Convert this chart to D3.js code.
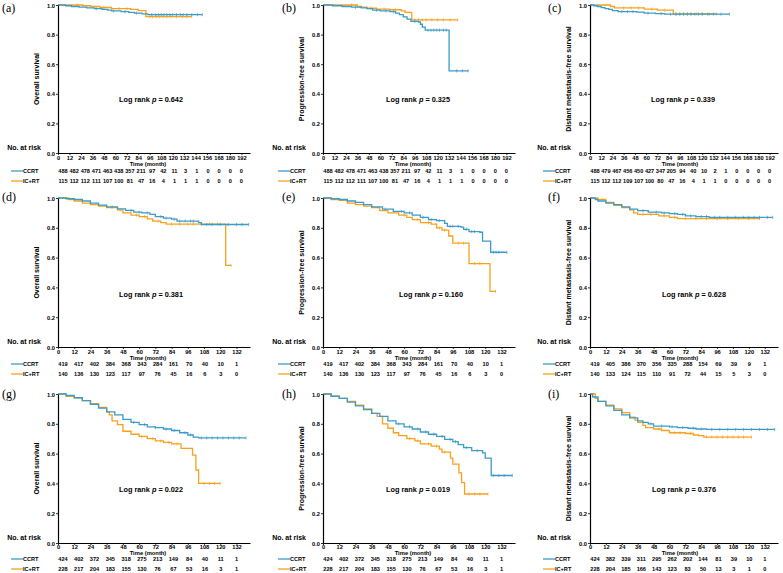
<!DOCTYPE html>
<html>
<head>
<meta charset="utf-8">
<script src="https://cdn.jsdelivr.net/npm/d3@7"></script>
<style>
  body { margin: 0; background: #fff; }
  svg { display: block; font-family: "Liberation Sans", Arial, sans-serif; font-weight: bold; }
</style>
</head>
<body>
<svg id="chart" width="783" height="573"></svg>
<script>
// ---- data ----
var ticksLong = [0, 12, 24, 36, 48, 60, 72, 84, 96, 108, 120, 132, 144, 156, 168, 180, 192];
var ticksShort = [0, 12, 24, 36, 48, 60, 72, 84, 96, 108, 120, 132];
var survTicks = [0, 0.2, 0.4, 0.6, 0.8, 1.0];
var groups = ['CCRT', 'IC+RT'];

// KM steps: [month, survival]; last point = end of follow-up
var a_ccrt = [[0,1],[8,0.995],[14,0.99],[22,0.985],[30,0.98],[38,0.975],[46,0.97],[52,0.965],[56,0.96],[66,0.955],[74,0.95],[80,0.945],[88,0.94],[94,0.935],[151,0.935]];
var a_ic = [[0,1],[26,0.995],[34,0.99],[44,0.983],[56,0.975],[76,0.97],[84,0.962],[92,0.921],[140,0.921]];
var b_ccrt = [[0,1],[10,0.995],[20,0.99],[30,0.985],[40,0.98],[46,0.975],[52,0.965],[60,0.96],[70,0.955],[76,0.945],[80,0.935],[84,0.92],[88,0.905],[92,0.89],[100,0.885],[102,0.87],[104,0.85],[107,0.83],[132,0.555],[152,0.555]];
var b_ic = [[0,1],[36,0.99],[40,0.985],[46,0.978],[56,0.972],[70,0.968],[82,0.96],[86,0.95],[93,0.9],[141,0.9]];
var c_ccrt = [[0,1],[4,0.995],[8,0.99],[12,0.982],[16,0.975],[20,0.97],[24,0.962],[30,0.955],[50,0.952],[58,0.945],[70,0.942],[80,0.938],[149,0.938]];
var c_ic = [[0,1],[22,0.99],[26,0.98],[58,0.972],[72,0.965],[89,0.94],[135,0.94]];
var d_ccrt = [[0,1],[6,0.995],[12,0.99],[18,0.98],[24,0.965],[30,0.952],[36,0.94],[44,0.927],[50,0.917],[56,0.905],[62,0.9],[68,0.89],[72,0.875],[78,0.865],[84,0.858],[88,0.845],[104,0.835],[106,0.822],[141,0.822]];
var d_ic = [[0,1],[8,0.99],[12,0.98],[18,0.965],[24,0.955],[30,0.945],[36,0.935],[44,0.92],[48,0.9],[54,0.885],[60,0.875],[66,0.86],[70,0.845],[76,0.835],[80,0.825],[124,0.548],[128,0.548]];
var e_ccrt = [[0,1],[6,0.995],[12,0.99],[18,0.98],[24,0.97],[30,0.955],[36,0.94],[44,0.925],[52,0.91],[60,0.9],[66,0.885],[72,0.87],[78,0.855],[84,0.848],[90,0.83],[92,0.81],[102,0.805],[104,0.79],[108,0.775],[116,0.77],[118,0.71],[124,0.636],[136,0.636]];
var e_ic = [[0,1],[6,0.99],[12,0.985],[18,0.965],[24,0.955],[30,0.945],[36,0.935],[42,0.915],[48,0.9],[56,0.885],[62,0.87],[66,0.855],[72,0.835],[80,0.825],[84,0.8],[88,0.785],[93,0.745],[96,0.697],[108,0.56],[123.5,0.373],[127.6,0.373]];
var f_ccrt = [[0,1],[4,0.99],[6,0.98],[12,0.965],[18,0.955],[24,0.94],[30,0.925],[36,0.915],[44,0.905],[54,0.9],[60,0.895],[66,0.89],[72,0.88],[80,0.875],[90,0.87],[138,0.87]];
var f_ic = [[0,1],[6,0.99],[12,0.97],[18,0.95],[24,0.935],[30,0.92],[33,0.9],[36,0.89],[52,0.88],[60,0.87],[66,0.862],[128,0.862]];
var g_ccrt = [[0,1],[6,0.99],[12,0.975],[18,0.955],[24,0.93],[30,0.905],[36,0.88],[42,0.86],[48,0.83],[54,0.81],[60,0.795],[66,0.78],[72,0.775],[78,0.765],[84,0.755],[90,0.74],[96,0.725],[100,0.71],[104,0.705],[139,0.705]];
var g_ic = [[0,1],[6,0.985],[12,0.975],[18,0.955],[24,0.935],[30,0.91],[36,0.88],[38,0.86],[40,0.82],[44,0.795],[48,0.75],[54,0.73],[60,0.715],[66,0.7],[72,0.685],[78,0.675],[84,0.665],[91,0.635],[99.5,0.59],[102,0.49],[104,0.4],[120,0.4]];
var h_ccrt = [[0,1],[6,0.985],[12,0.97],[18,0.945],[24,0.92],[30,0.895],[36,0.87],[42,0.85],[48,0.82],[54,0.8],[60,0.78],[66,0.765],[72,0.745],[78,0.73],[84,0.715],[90,0.695],[96,0.68],[100,0.66],[104,0.64],[110,0.62],[118,0.605],[120,0.569],[124.4,0.453],[140,0.453]];
var h_ic = [[0,1],[6,0.985],[12,0.97],[18,0.95],[24,0.925],[30,0.9],[36,0.87],[40,0.85],[44,0.8],[48,0.77],[52,0.74],[56,0.72],[62,0.7],[68,0.685],[72,0.665],[80,0.65],[86,0.63],[88,0.61],[94.3,0.57],[96,0.53],[100.5,0.47],[102.5,0.405],[104.7,0.329],[122,0.329]];
var i_ccrt = [[0,1],[2,0.98],[6,0.95],[12,0.92],[18,0.89],[24,0.86],[30,0.84],[36,0.82],[40,0.81],[44,0.8],[48,0.785],[60,0.78],[66,0.775],[74,0.77],[80,0.765],[88,0.762],[139.5,0.762]];
var i_ic = [[0,1],[4,0.97],[6,0.95],[12,0.925],[18,0.9],[24,0.875],[30,0.845],[34,0.825],[36,0.81],[40,0.79],[42,0.775],[48,0.765],[54,0.755],[60,0.74],[72,0.735],[78,0.725],[82,0.72],[86,0.711],[122,0.711]];

// censoring times (months)
var a_ccrt_cens = [40, 58, 70, 82, 98, 102, 105, 108, 111, 114, 117, 120, 124, 128, 131, 135, 140, 146, 151];
var a_ic_cens = [20, 48, 64, 72, 96, 99, 103, 106, 110, 114, 118, 124, 130, 135, 140];
var b_ccrt_cens = [34, 56, 66, 74, 96, 110, 113, 116, 119, 122, 126, 129, 140, 146, 152];
var b_ic_cens = [30, 50, 64, 76, 96, 100, 104, 108, 114, 120, 126, 133, 141];
var c_ccrt_cens = [34, 40, 46, 62, 76, 86, 92, 96, 100, 104, 108, 112, 116, 120, 126, 132, 140, 149];
var c_ic_cens = [36, 44, 52, 66, 80, 92, 96, 100, 104, 108, 114, 120, 128, 135];
var d_ccrt_cens = [40, 54, 60, 66, 76, 80, 86, 90, 94, 98, 100, 110, 114, 120, 126, 132, 136, 141];
var d_ic_cens = [46, 58, 64, 74, 84, 90, 96, 100, 106, 112, 118, 128];
var e_ccrt_cens = [46, 58, 64, 74, 80, 86, 94, 96, 100, 106, 110, 112, 126, 128, 130, 136];
var e_ic_cens = [60, 70, 78, 86, 90, 100, 104, 112, 116, 127.6];
var f_ccrt_cens = [40, 50, 56, 64, 70, 76, 84, 88, 94, 98, 104, 110, 116, 120, 124, 128, 134, 138];
var f_ic_cens = [40, 46, 56, 64, 72, 80, 88, 96, 104, 112, 120, 128];
var g_ccrt_cens = [56, 64, 72, 80, 86, 94, 98, 106, 110, 114, 118, 122, 126, 130, 134, 139];
var g_ic_cens = [62, 70, 76, 82, 88, 108, 112, 116, 120];
var h_ccrt_cens = [56, 64, 70, 76, 82, 88, 94, 98, 106, 114, 126, 130, 134, 140];
var h_ic_cens = [64, 70, 78, 84, 90, 108, 112, 116, 122];
var i_ccrt_cens = [46, 54, 62, 70, 78, 84, 92, 98, 104, 110, 116, 122, 128, 134, 139.5];
var i_ic_cens = [52, 64, 68, 76, 88, 92, 96, 100, 104, 108, 112, 116, 122];

// numbers at risk
var a_risk_ccrt = [488, 482, 478, 471, 463, 438, 357, 211, 97, 42, 11, 3, 1, 0, 0, 0, 0];
var a_risk_ic = [115, 112, 112, 111, 107, 100, 81, 47, 16, 4, 1, 1, 1, 0, 0, 0, 0];
var c_risk_ccrt = [488, 479, 467, 456, 450, 427, 347, 205, 94, 40, 10, 2, 1, 0, 0, 0, 0];
var c_risk_ic = [115, 112, 112, 109, 107, 100, 80, 47, 16, 4, 1, 1, 0, 0, 0, 0, 0];
var d_risk_ccrt = [419, 417, 402, 384, 368, 343, 284, 161, 70, 40, 10, 1];
var d_risk_ic = [140, 136, 130, 123, 117, 97, 76, 45, 16, 6, 3, 0];
var f_risk_ccrt = [419, 405, 386, 370, 356, 335, 288, 154, 69, 39, 9, 1];
var f_risk_ic = [140, 133, 124, 115, 110, 91, 72, 44, 15, 5, 3, 0];
var g_risk_ccrt = [424, 402, 372, 345, 318, 275, 213, 149, 84, 40, 11, 1];
var g_risk_ic = [228, 217, 204, 183, 155, 130, 76, 67, 53, 16, 3, 1];
var i_risk_ccrt = [424, 382, 339, 311, 295, 262, 202, 144, 81, 39, 10, 1];
var i_risk_ic = [228, 204, 185, 166, 143, 123, 83, 50, 13, 3, 1, 0];

var pValues = ['0.642', '0.325', '0.339', '0.381', '0.160', '0.628', '0.022', '0.019', '0.376'];
var panelLabels = ['(a)', '(b)', '(c)', '(d)', '(e)', '(f)', '(g)', '(h)', '(i)'];
var yTitles = ['Overall survival', 'Progression-free survival', 'Distant metastasis-free survival'];

// ---- layout ----
var colors = { ccrt: '#3c9cc8', ic: '#f7a11c' };
var cols = [
  { x0: 58, w: 192, legendX: 11, riskRight: 41, labelX: 2 },
  { x0: 323, w: 192, legendX: 278, riskRight: 306, labelX: 282 },
  { x0: 590, w: 188, legendX: 543, riskRight: 571, labelX: 548 }
];
var rows = [
  { top: 5, bottom: 153, max: 201, ticks: ticksLong, labelY: 12, pY: 99, tickY: 158, timeY: 164, r1: 171, r2: 181 },
  { top: 198, bottom: 347, max: 142, ticks: ticksShort, labelY: 201, pY: 294, tickY: 352, timeY: 358, r1: 364, r2: 374 },
  { top: 394, bottom: 543, max: 142, ticks: ticksShort, labelY: 398, pY: 489, tickY: 547, timeY: 553, r1: 559, r2: 569 }
];
var pOffset = [93, 95, 93, 93, 108, 104, 93, 95, 94];

var panels = [
  { ccrt: a_ccrt, ic: a_ic, cc: a_ccrt_cens, ci: a_ic_cens, rc: a_risk_ccrt, ri: a_risk_ic },
  { ccrt: b_ccrt, ic: b_ic, cc: b_ccrt_cens, ci: b_ic_cens, rc: a_risk_ccrt, ri: a_risk_ic },
  { ccrt: c_ccrt, ic: c_ic, cc: c_ccrt_cens, ci: c_ic_cens, rc: c_risk_ccrt, ri: c_risk_ic },
  { ccrt: d_ccrt, ic: d_ic, cc: d_ccrt_cens, ci: d_ic_cens, rc: d_risk_ccrt, ri: d_risk_ic },
  { ccrt: e_ccrt, ic: e_ic, cc: e_ccrt_cens, ci: e_ic_cens, rc: d_risk_ccrt, ri: d_risk_ic },
  { ccrt: f_ccrt, ic: f_ic, cc: f_ccrt_cens, ci: f_ic_cens, rc: f_risk_ccrt, ri: f_risk_ic },
  { ccrt: g_ccrt, ic: g_ic, cc: g_ccrt_cens, ci: g_ic_cens, rc: g_risk_ccrt, ri: g_risk_ic },
  { ccrt: h_ccrt, ic: h_ic, cc: h_ccrt_cens, ci: h_ic_cens, rc: g_risk_ccrt, ri: g_risk_ic },
  { ccrt: i_ccrt, ic: i_ic, cc: i_ccrt_cens, ci: i_ic_cens, rc: i_risk_ccrt, ri: i_risk_ic }
];

var svg = d3.select('#chart');

function survAt(steps, t) {
  var s = 1;
  for (var k = 0; k < steps.length; k++) {
    if (steps[k][0] <= t) s = steps[k][1]; else break;
  }
  return s;
}

function drawPanel(p, idx) {
  var col = cols[idx % 3], row = rows[Math.floor(idx / 3)];
  var x = d3.scaleLinear().domain([0, row.max]).range([col.x0, col.x0 + col.w]);
  var y = d3.scaleLinear().domain([0, 1]).range([row.bottom, row.top]);
  var g = svg.append('g');

  var line = d3.line()
    .x(function (d) { return x(d[0]); })
    .y(function (d) { return y(d[1]); })
    .curve(d3.curveStepAfter);

  // orange under, blue on top
  [[p.ic, p.ci, colors.ic], [p.ccrt, p.cc, colors.ccrt]].forEach(function (s) {
    g.append('path').attr('d', line(s[0]))
      .attr('fill', 'none').attr('stroke', s[2]).attr('stroke-width', 1.3);
    g.selectAll(null).data(s[1]).enter().append('line')
      .attr('x1', function (t) { return x(t); })
      .attr('x2', function (t) { return x(t); })
      .attr('y1', function (t) { return y(survAt(s[0], t)) - 1.6; })
      .attr('y2', function (t) { return y(survAt(s[0], t)) + 1.6; })
      .attr('stroke', s[2]).attr('stroke-width', 0.7);
  });

  // axes
  var yAxis = d3.axisLeft(y).tickValues(survTicks).tickFormat(d3.format('.1f'))
    .tickSize(2).tickSizeOuter(0).tickPadding(1);
  var xAxis = d3.axisBottom(x).tickValues(row.ticks).tickFormat(d3.format('d'))
    .tickSize(2).tickSizeOuter(0).tickPadding(1);

  var ya = g.append('g').attr('transform', 'translate(' + col.x0 + ',0)').call(yAxis);
  var xa = g.append('g').attr('transform', 'translate(0,' + row.bottom + ')').call(xAxis);
  [ya, xa].forEach(function (a) {
    a.select('.domain').attr('stroke', '#000').attr('stroke-width', 1.2);
    a.selectAll('.tick line').attr('stroke', '#000').attr('stroke-width', 0.8);
    a.selectAll('.tick text').attr('fill', '#000')
      .style('font-size', '5.7px').style('font-weight', 'bold')
      .style('font-family', '"Liberation Sans", Arial, sans-serif');
  });
  ya.selectAll('.tick text').attr('dy', '0.35em');
  xa.selectAll('.tick text').attr('dy', null).attr('y', row.tickY - row.bottom + 1.5);

  // y title
  var yc = (row.top + row.bottom) / 2;
  g.append('text')
    .attr('transform', 'translate(' + (col.x0 - 21) + ',' + yc + ') rotate(-90)')
    .attr('text-anchor', 'middle').attr('dy', '0.35em')
    .style('font-size', '7px').text(yTitles[idx % 3]);

  // panel label
  g.append('text').attr('x', col.labelX).attr('y', row.labelY)
    .style('font-family', '"Liberation Serif", "Times New Roman", serif')
    .style('font-weight', 'normal').style('font-size', '12px')
    .text(panelLabels[idx]);

  // log rank
  var lr = g.append('text').attr('x', col.x0 + pOffset[idx]).attr('y', row.pY)
    .attr('text-anchor', 'middle').attr('dy', '0.35em').style('font-size', '7.3px');
  lr.append('tspan').text('Log rank ');
  lr.append('tspan').style('font-style', 'italic').text('p');
  lr.append('tspan').text(' = ' + pValues[idx]);

  // time title
  g.append('text').attr('x', col.x0 + 90).attr('y', row.timeY).attr('dy', '0.35em')
    .attr('text-anchor', 'middle').style('font-size', '5.8px').text('Time (month)');

  // risk table
  g.append('text').attr('x', col.riskRight).attr('y', row.bottom - 5).attr('dy', '0.35em')
    .attr('text-anchor', 'end').style('font-size', '7px').text('No. at risk');

  var last = row.ticks[row.ticks.length - 1];
  var rx = d3.scaleLinear().domain([0, last]).range([x(0) + 5, x(last)]);
  [[p.rc, row.r1, colors.ccrt, groups[0]], [p.ri, row.r2, colors.ic, groups[1]]].forEach(function (r) {
    g.append('line').attr('x1', col.legendX).attr('x2', col.legendX + 12)
      .attr('y1', r[1]).attr('y2', r[1]).attr('stroke', r[2]).attr('stroke-width', 1.3);
    g.append('text').attr('x', col.legendX + 12).attr('y', r[1]).attr('dy', '0.35em')
      .style('font-size', '5.6px').text(r[3]);
    g.selectAll(null).data(r[0]).enter().append('text')
      .attr('x', function (d, k) { return rx(row.ticks[k]); })
      .attr('y', r[1]).attr('dy', '0.35em').attr('text-anchor', 'middle')
      .style('font-size', '5.6px').text(function (d) { return d; });
  });
}

panels.forEach(drawPanel);
</script>
</body>
</html>
